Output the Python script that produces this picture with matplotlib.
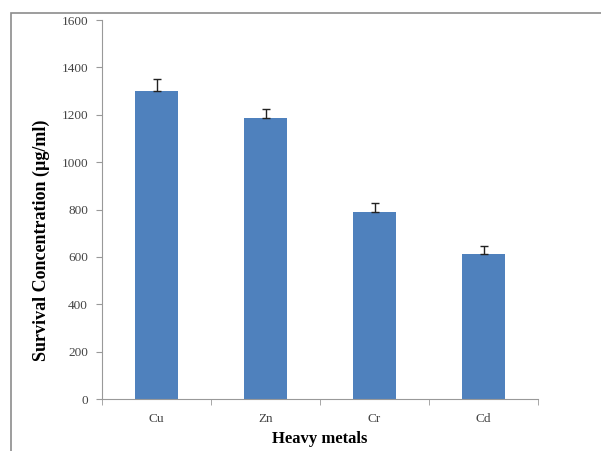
import matplotlib.pyplot as plt
from matplotlib.patches import Rectangle

metals = ["Cu", "Zn", "Cr", "Cd"]
survival = [1300, 1185, 790, 612]
errors = [50, 40, 37, 35]
yticks = [0, 200, 400, 600, 800, 1000, 1200, 1400, 1600]

fig = plt.figure(figsize=(6.01, 4.51), dpi=100)
ax = fig.add_axes([102 / 601, 52 / 451, 436 / 601, 379 / 451])

# outer chart frame
fig.patches.append(Rectangle((11 / 601, -0.1), 1.2, (451 - 13) / 451 + 0.1,
                             transform=fig.transFigure, fill=False,
                             edgecolor="#8c8c8c", linewidth=1.2))

x = range(len(metals))
ax.bar(x, survival, width=0.4, color="#4f81bd", zorder=2)
ax.errorbar(x, survival, yerr=[[0] * len(errors), errors], fmt="none",
            ecolor="#222222", elinewidth=1, capsize=3, capthick=1, zorder=3)

ax.set_xlim(-0.5, 3.5)
ax.set_ylim(0, 1600)
ax.set_yticks(yticks)
ax.set_yticklabels([str(v) for v in yticks], family="Liberation Serif")
ax.set_xticks(list(x))
ax.set_xticklabels(metals, family="Liberation Serif")
ax.set_xticks([-0.5, 0.5, 1.5, 2.5, 3.5], minor=True)
ax.tick_params(axis="x", which="major", length=0, pad=10, labelsize=9.5, colors="#444444")
ax.tick_params(axis="x", which="minor", length=4, direction="out", color="#999999")
ax.tick_params(axis="y", length=4, direction="out", color="#999999", pad=6,
               labelsize=9.5, labelcolor="#444444")

for side in ["top", "right"]:
    ax.spines[side].set_visible(False)
for side in ["left", "bottom"]:
    ax.spines[side].set_color("#999999")

ax.set_xlabel("Heavy metals", family="Liberation Serif", fontweight="bold",
              fontsize=12)
ax.xaxis.set_label_coords(0.5, -0.085)
ax.set_ylabel("Survival Concentration (µg/ml)", family="Liberation Serif",
              fontweight="bold", fontsize=13)
ax.yaxis.set_label_coords(-0.12, 0.42)

fig.savefig("out.png", dpi=100)
